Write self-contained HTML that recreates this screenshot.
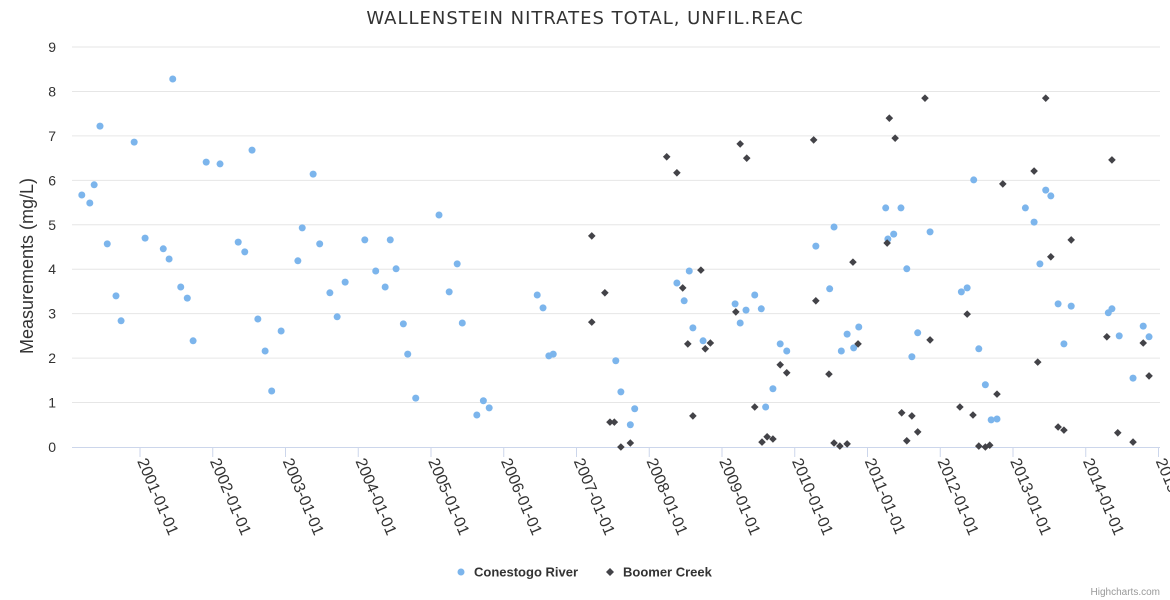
<!DOCTYPE html>
<html><head><meta charset="utf-8"><style>
html,body{margin:0;padding:0;background:#fff;}
svg{display:block;font-family:"Liberation Sans",sans-serif;}
</style></head><body>
<svg id="chart" width="1170" height="600" xmlns="http://www.w3.org/2000/svg">
<text x="585" y="24" text-anchor="middle" font-size="18" letter-spacing="1" fill="#333" style="font-family:'DejaVu Sans',sans-serif">WALLENSTEIN NITRATES TOTAL, UNFIL.REAC</text>
<text transform="translate(33,266) rotate(-90)" text-anchor="middle" font-size="18" fill="#333">Measurements (mg/L)</text>
<g id="grid"></g><g id="xaxis"></g><g id="marks"></g>
<g>
<g><circle cx="461" cy="572" r="3.5" fill="#7cb5ec"/><text x="474" y="576.5" font-size="13" font-weight="bold" fill="#333">Conestogo River</text></g>
<g><path d="M610 568 L614 572 L610 576 L606 572 Z" fill="#434348"/><text x="623" y="576.5" font-size="13" font-weight="bold" fill="#333">Boomer Creek</text></g>
</g>
<text x="1160" y="595" text-anchor="end" font-size="10" fill="#999">Highcharts.com</text>
</svg>
<script>
const yTicks=[0,1,2,3,4,5,6,7,8,9];
const xTickYears=[2001,2002,2003,2004,2005,2006,2007,2008,2009,2010,2011,2012,2013,2014,2015];
const conestogoDates=[2000.20,2000.31,2000.37,2000.45,2000.55,2000.67,2000.74,2000.92,2001.07,2001.32,2001.40,2001.45,2001.56,2001.65,2001.73,2001.91,2002.10,2002.35,2002.44,2002.54,2002.62,2002.72,2002.81,2002.94,2003.17,2003.23,2003.38,2003.47,2003.61,2003.71,2003.82,2004.09,2004.24,2004.37,2004.44,2004.52,2004.62,2004.68,2004.79,2005.11,2005.25,2005.36,2005.43,2005.63,2005.72,2005.80,2006.46,2006.54,2006.62,2006.68,2007.54,2007.61,2007.74,2007.80,2008.38,2008.48,2008.55,2008.60,2008.74,2009.18,2009.25,2009.33,2009.45,2009.54,2009.60,2009.70,2009.80,2009.89,2010.29,2010.48,2010.54,2010.64,2010.72,2010.81,2010.88,2011.25,2011.28,2011.36,2011.46,2011.54,2011.61,2011.69,2011.86,2012.29,2012.37,2012.46,2012.53,2012.62,2012.70,2012.78,2013.17,2013.29,2013.37,2013.45,2013.52,2013.62,2013.70,2013.80,2014.31,2014.36,2014.46,2014.65,2014.79,2014.87];
const conestogoValues=[5.67,5.49,5.90,7.22,4.57,3.40,2.84,6.86,4.70,4.46,4.23,8.28,3.60,3.35,2.39,6.41,6.37,4.61,4.39,6.68,2.88,2.16,1.26,2.61,4.19,4.93,6.14,4.57,3.47,2.93,3.71,4.66,3.96,3.60,4.66,4.01,2.77,2.09,1.10,5.22,3.49,4.12,2.79,0.72,1.04,0.88,3.42,3.13,2.05,2.09,1.94,1.24,0.50,0.86,3.69,3.29,3.96,2.68,2.39,3.22,2.79,3.08,3.42,3.11,0.90,1.31,2.32,2.16,4.52,3.56,4.95,2.16,2.54,2.23,2.70,5.38,4.68,4.79,5.38,4.01,2.03,2.57,4.84,3.49,3.58,6.01,2.21,1.40,0.61,0.63,5.38,5.06,4.12,5.78,5.65,3.22,2.32,3.17,3.02,3.11,2.50,1.55,2.72,2.48];
const boomerDates=[2007.21,2007.21,2007.39,2007.46,2007.52,2007.61,2007.74,2008.24,2008.38,2008.46,2008.53,2008.60,2008.71,2008.77,2008.84,2009.19,2009.25,2009.34,2009.45,2009.55,2009.62,2009.70,2009.80,2009.89,2010.26,2010.29,2010.47,2010.54,2010.62,2010.72,2010.80,2010.87,2011.27,2011.30,2011.38,2011.47,2011.54,2011.61,2011.69,2011.79,2011.86,2012.27,2012.37,2012.45,2012.53,2012.62,2012.68,2012.78,2012.86,2013.29,2013.34,2013.45,2013.52,2013.62,2013.70,2013.80,2014.29,2014.36,2014.44,2014.65,2014.79,2014.87];
const boomerValues=[4.75,2.81,3.47,0.56,0.56,0.00,0.09,6.53,6.17,3.58,2.32,0.70,3.98,2.21,2.34,3.04,6.82,6.50,0.90,0.11,0.23,0.18,1.85,1.67,6.91,3.29,1.64,0.09,0.02,0.07,4.16,2.32,4.59,7.40,6.95,0.77,0.14,0.70,0.34,7.85,2.41,0.90,2.99,0.72,0.02,0.00,0.04,1.19,5.92,6.21,1.91,7.85,4.28,0.45,0.38,4.66,2.48,6.46,0.32,0.11,2.34,1.60];

const NS='http://www.w3.org/2000/svg';
const X0=72,X1=1160,Y0=447,PPU=44.44;
function xs(yr){return 140+(yr-2001)*72.75;}
function ys(v){return Y0-v*PPU;}
function mk(tag,attrs,parent){const e=document.createElementNS(NS,tag);for(const k in attrs)e.setAttribute(k,attrs[k]);parent.appendChild(e);return e;}
const grid=document.getElementById('grid'),xa=document.getElementById('xaxis'),marks=document.getElementById('marks');
yTicks.forEach(t=>{
  if(t>0){const l=mk('line',{x1:X0,x2:X1,y1:ys(t),y2:ys(t),stroke:'#e6e6e6','stroke-width':1},grid);
  
  }
  const tx=mk('text',{x:56,y:ys(t)+5,'text-anchor':'end','font-size':14,fill:'#333'},grid);
  tx.textContent=t;
  
  
});
const ax=mk('line',{x1:X0,x2:X1,y1:Y0+0.5,y2:Y0+0.5,stroke:'#ccd6eb','stroke-width':1},xa);


xTickYears.forEach(y=>{
  const x=xs(y);
  const t=mk('line',{x1:x,x2:x,y1:Y0,y2:Y0+10,stroke:'#ccd6eb'},xa);
  
  
  const tx=mk('text',{x:0,y:0,'font-size':16,fill:'#333',transform:`translate(${x-3},${Y0+14}) rotate(67)`},xa);
  tx.textContent=y+'-01-01';
  
  
});
conestogoDates.forEach((d,i)=>{
  const c=mk('circle',{cx:xs(d),cy:ys(conestogoValues[i]),r:3.5,fill:'#7cb5ec'},marks);
  
  
});
boomerDates.forEach((d,i)=>{
  const x=xs(d),y=ys(boomerValues[i]);
  const p=mk('path',{d:`M${x} ${y-3.8} L${x+3.8} ${y} L${x} ${y+3.8} L${x-3.8} ${y} Z`,fill:'#434348'},marks);
  
  
});
</script>
</body></html>
